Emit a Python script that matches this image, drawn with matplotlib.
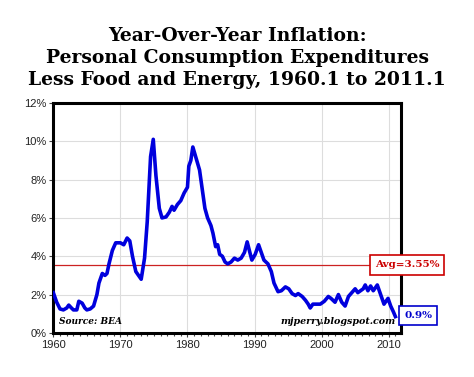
import numpy as np
import matplotlib
matplotlib.use('Agg')
import matplotlib.pyplot as plt
from matplotlib.ticker import MultipleLocator, FuncFormatter

# year-over-year core PCE inflation (%)
years = [1960.0, 1960.5, 1961.0, 1961.5, 1962.0, 1962.3, 1962.7, 1963.0, 1963.5,
         1963.8, 1964.3, 1964.7, 1965.0, 1965.5, 1966.0, 1966.5, 1966.8, 1967.3,
         1967.7, 1968.0, 1968.3, 1968.8, 1969.3, 1970.0, 1970.5, 1971.0, 1971.4,
         1971.8, 1972.3, 1972.7, 1973.1, 1973.6, 1974.0, 1974.5, 1974.9, 1975.3,
         1975.8, 1976.2, 1976.8, 1977.3, 1977.7, 1978.0, 1978.5, 1979.0, 1979.5,
         1980.0, 1980.2, 1980.5, 1980.8, 1981.3, 1981.8, 1982.2, 1982.6, 1983.0,
         1983.5, 1983.8, 1984.2, 1984.5, 1984.8, 1985.2, 1985.6, 1986.0, 1986.5,
         1987.0, 1987.5, 1988.0, 1988.5, 1988.9, 1989.3, 1989.6, 1990.1, 1990.6,
         1991.0, 1991.4, 1992.0, 1992.5, 1992.9, 1993.5, 1994.0, 1994.6, 1995.1,
         1995.6, 1996.1, 1996.5, 1997.1, 1997.6, 1998.0, 1998.3, 1998.7, 1999.3,
         1999.8, 2000.4, 2001.0, 2001.4, 2002.0, 2002.5, 2003.0, 2003.5, 2004.0,
         2004.5, 2005.0, 2005.4, 2005.8, 2006.2, 2006.5, 2006.9, 2007.3, 2007.7,
         2008.3, 2008.8, 2009.3, 2009.6, 2009.9, 2010.3, 2010.7, 2011.0]
infl = [2.1, 1.6, 1.25, 1.2, 1.3, 1.45, 1.3, 1.2, 1.2,
        1.65, 1.55, 1.3, 1.2, 1.25, 1.4, 2.0, 2.6, 3.1,
        3.0, 3.1, 3.6, 4.3, 4.7, 4.7, 4.6, 4.95, 4.8,
        4.0, 3.2, 3.0, 2.8, 3.9, 5.8, 9.2, 10.1, 8.2,
        6.5, 6.0, 6.05, 6.3, 6.6, 6.4, 6.7, 6.9, 7.3,
        7.6, 8.7, 9.0, 9.7, 9.1, 8.5, 7.5, 6.5, 6.0,
        5.6, 5.2, 4.5, 4.6, 4.1, 4.0, 3.7, 3.6, 3.7,
        3.9, 3.8, 3.9, 4.2, 4.75, 4.2, 3.8, 4.1, 4.6,
        4.2, 3.8, 3.6, 3.2, 2.6, 2.15, 2.2, 2.4, 2.3,
        2.05, 1.95, 2.05, 1.9, 1.7, 1.5, 1.3, 1.5, 1.5,
        1.5, 1.65, 1.9, 1.8, 1.6, 2.0, 1.6, 1.4, 1.9,
        2.1, 2.3, 2.1, 2.2, 2.3, 2.5, 2.2, 2.45, 2.2,
        2.5, 2.0, 1.5, 1.65, 1.8, 1.4, 1.1, 0.85]
avg = 3.55
last = 0.9

fig = plt.figure(figsize=(4.74, 3.77), dpi=100)
ax = fig.add_axes([0.1125, 0.117, 0.733, 0.61])

ax.grid(True, color='#dddddd', lw=0.8)
ax.set_axisbelow(True)
ax.plot(years, infl, color='#0000dd', lw=2.6, solid_joinstyle='round', zorder=3)
ax.axhline(avg, color='#cc2222', lw=0.9, zorder=2)

ax.set_xlim(1960, 2011.8)
ax.set_ylim(0, 12)
ax.xaxis.set_major_locator(MultipleLocator(10))
ax.xaxis.set_minor_locator(MultipleLocator(1))
ax.yaxis.set_major_locator(MultipleLocator(2))
ax.yaxis.set_major_formatter(FuncFormatter(lambda v, p: '%d%%' % v))
ax.tick_params(axis='both', labelsize=8, color='#444444', labelcolor='#222222',
               width=0.8, length=3, pad=2)
ax.tick_params(axis='x', which='minor', length=2.5, width=0.8, color='#444444')
for lab in ax.get_xticklabels() + ax.get_yticklabels():
    lab.set_family('Liberation Sans')
for s in ax.spines.values():
    s.set_linewidth(2.2)
    s.set_color('black')

ax.text(0.015, 0.03, 'Source: BEA', transform=ax.transAxes, family='DejaVu Serif',
        fontsize=6.5, fontweight='bold', fontstyle='italic', ha='left', va='bottom')
ax.text(0.985, 0.03, 'mjperry.blogspot.com', transform=ax.transAxes, family='DejaVu Serif',
        fontsize=6.8, fontweight='bold', fontstyle='italic', ha='right', va='bottom')

ax.annotate('Avg=3.55%', xy=(1.018, avg), xycoords=('axes fraction', 'data'),
            ha='center', va='center', fontsize=7.5, fontweight='bold', family='DejaVu Serif',
            color='#cc0000', annotation_clip=False, zorder=5,
            bbox=dict(boxstyle='square,pad=0.5', fc='white', ec='#cc0000', lw=1.2))
ax.annotate('%.1f%%' % last, xy=(1.05, last), xycoords=('axes fraction', 'data'),
            ha='center', va='center', fontsize=7.5, fontweight='bold', family='DejaVu Serif',
            color='#0000cc', annotation_clip=False, zorder=5,
            bbox=dict(boxstyle='square,pad=0.45', fc='white', ec='#0000cc', lw=1.2))

fig.text(0.5, 0.846, 'Year-Over-Year Inflation:\nPersonal Consumption Expenditures\n'
         'Less Food and Energy, 1960.1 to 2011.1',
         ha='center', va='center', fontsize=13.5, fontweight='bold',
         family='DejaVu Serif', linespacing=1.3)

fig.savefig('out.png', dpi=100)
